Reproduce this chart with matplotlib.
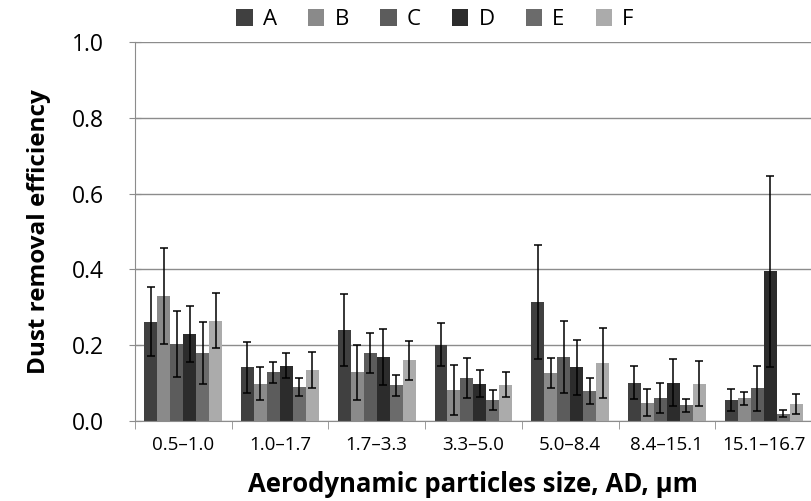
import numpy as np
import matplotlib.pyplot as plt

plt.rcParams['font.family'] = ['Open Sans', 'DejaVu Sans']

# size ranges (um)
categories = ['0.5\u20131.0', '1.0\u20131.7', '1.7\u20133.3', '3.3\u20135.0',
              '5.0\u20138.4', '8.4\u201315.1', '15.1\u201316.7']
series = ['A', 'B', 'C', 'D', 'E', 'F']

A = [0.262, 0.141, 0.241, 0.201, 0.313, 0.101, 0.055]
B = [0.330, 0.098, 0.128, 0.081, 0.127, 0.048, 0.059]
C = [0.202, 0.128, 0.180, 0.113, 0.168, 0.061, 0.086]
D = [0.229, 0.146, 0.168, 0.098, 0.141, 0.101, 0.395]
E = [0.179, 0.089, 0.094, 0.055, 0.079, 0.041, 0.019]
F = [0.264, 0.135, 0.160, 0.095, 0.152, 0.098, 0.045]

A_err = [0.092, 0.068, 0.095, 0.057, 0.150, 0.043, 0.029]
B_err = [0.127, 0.044, 0.072, 0.066, 0.039, 0.036, 0.017]
C_err = [0.087, 0.028, 0.053, 0.052, 0.095, 0.039, 0.060]
D_err = [0.073, 0.033, 0.074, 0.036, 0.072, 0.063, 0.252]
E_err = [0.081, 0.023, 0.028, 0.027, 0.035, 0.017, 0.009]
F_err = [0.073, 0.048, 0.052, 0.033, 0.092, 0.060, 0.027]

values = [A, B, C, D, E, F]
errors = [A_err, B_err, C_err, D_err, E_err, F_err]
colors = ['#404040', '#8a8a8a', '#5c5c5c', '#2c2c2c', '#6b6b6b', '#ababab']

fig = plt.figure(figsize=(8.12, 5.01), dpi=100)
ax = fig.add_axes([0.166, 0.16, 0.834, 0.756])

x = np.arange(len(categories))
w = 0.134
for i, (vals, errs, col) in enumerate(zip(values, errors, colors)):
    pos = x + (i - 2.5) * w
    ax.bar(pos, vals, width=w, color=col, label=series[i], zorder=2)
    ax.errorbar(pos, vals, yerr=errs, fmt='none', ecolor='black',
                elinewidth=1.1, capsize=3, capthick=1.1, zorder=3)

ax.set_xlim(-0.5, len(categories) - 0.5)
ax.set_ylim(0, 1.0)
ax.set_yticks(np.arange(0, 1.01, 0.2))
ax.set_yticklabels(['%.1f' % v for v in np.arange(0, 1.01, 0.2)])
ax.yaxis.grid(True, color='#8c8c8c', linewidth=1.0, zorder=0)
ax.set_axisbelow(True)

ax.set_xticks(x)
ax.set_xticklabels(categories, fontsize=13.5)
ax.set_xticks(np.arange(-0.5, len(categories)), minor=True)
ax.tick_params(axis='x', which='major', length=0, pad=11)
ax.tick_params(axis='x', which='minor', length=6, color='#8c8c8c')
ax.tick_params(axis='y', labelsize=16.5, length=9, direction='inout',
               color='#8c8c8c', pad=18)

for s in ['top', 'right']:
    ax.spines[s].set_visible(False)
for s in ['left', 'bottom']:
    ax.spines[s].set_color('#8c8c8c')

ax.set_ylabel('Dust removal efficiency', fontsize=17.5, fontweight='bold', labelpad=15)
ax.set_xlabel('Aerodynamic particles size, AD, \u00b5m', fontsize=18.5,
              fontweight='bold', labelpad=12)

ax.legend(loc='lower center', bbox_to_anchor=(0.443, 1.008), ncol=6, frameon=False,
          fontsize=16, handlelength=0.75, handleheight=0.75, handletextpad=0.45,
          columnspacing=1.4, borderaxespad=0.0)

fig.savefig('out.png', dpi=100)
